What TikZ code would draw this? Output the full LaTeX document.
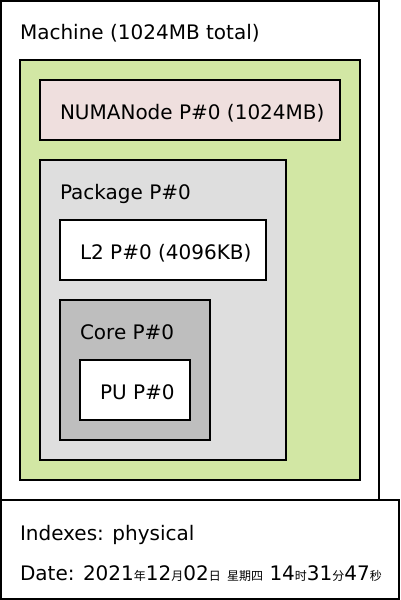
\documentclass[tikz,border=0pt]{standalone}
\usepackage{fontspec}
\setmainfont{DejaVu Sans}
\newfontfamily\cjkfont{Noto Sans CJK SC}
\newcommand{\zhtxt}[1]{{\cjkfont\fontsize{12}{12}\selectfont #1}}
\definecolor{groupgreen}{HTML}{D2E7A4}
\definecolor{numapink}{HTML}{EFDFDE}
\definecolor{pkggray}{HTML}{DEDEDE}
\definecolor{coregray}{HTML}{BEBEBE}
\begin{document}
\begin{tikzpicture}[x=1pt,y=-1pt,
  box/.style={draw=black, line width=2pt, inner sep=0pt, outer sep=0pt, anchor=north west},
  lbl/.style={inner sep=0pt, outer sep=0pt, anchor=base west, font=\fontsize{20}{24}\selectfont, text=black}]
\useasboundingbox (0,0) rectangle (400,600);
\fill[white] (0,0) rectangle (400,600);
% Machine
\node[box, fill=white, minimum width=378pt, minimum height=499pt] (machine) at (1,1) {};
\node[lbl] (machinelbl) at (20,39) {Machine (1024MB total)};
% Group (green)
\node[box, fill=groupgreen, minimum width=340pt, minimum height=420pt] (group) at (20,60) {};
% NUMA node
\node[box, fill=numapink, minimum width=300pt, minimum height=60pt] (numa) at (40,80) {};
\node[lbl] (numalbl) at (60,119) {NUMANode P\#0 (1024MB)};
% Package
\node[box, fill=pkggray, minimum width=246pt, minimum height=300pt] (pkg) at (40,160) {};
\node[lbl] (pkglbl) at (60,199) {Package P\#0};
% L2
\node[box, fill=white, minimum width=206pt, minimum height=60pt] (ltwo) at (60,220) {};
\node[lbl] (ltwolbl) at (80,259) {L2 P\#0 (4096KB)};
% Core
\node[box, fill=coregray, minimum width=150pt, minimum height=140pt] (core) at (60,300) {};
\node[lbl] (corelbl) at (80,339) {Core P\#0};
% PU
\node[box, fill=white, minimum width=110pt, minimum height=60pt] (pu) at (80,360) {};
\node[lbl] (pulbl) at (100,399) {PU P\#0};
% Legend
\node[box, fill=white, minimum width=398pt, minimum height=99pt] (legend) at (1,500) {};
\node[lbl] (idxlbl) at (20,540) {Indexes: physical};
\node[lbl] (datelbl) at (20,580) {Date: 2021\zhtxt{年}12\zhtxt{月}02\zhtxt{日} \zhtxt{星期四} 14\zhtxt{时}31\zhtxt{分}47\zhtxt{秒}};
\end{tikzpicture}
\end{document}
